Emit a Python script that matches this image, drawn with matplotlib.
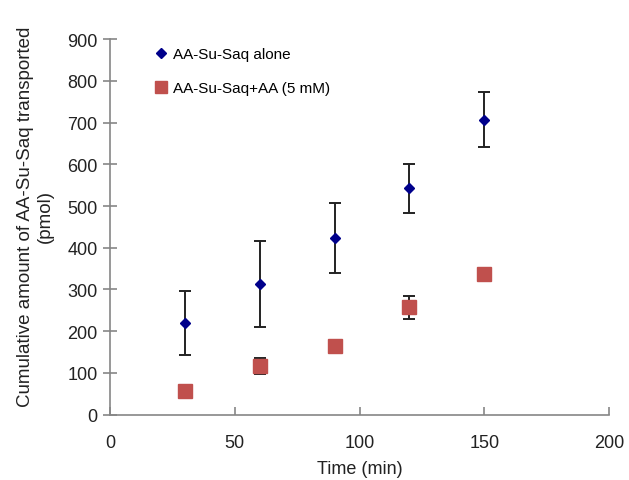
import numpy as np
import matplotlib.pyplot as plt

plt.rcParams['font.family'] = ['Liberation Sans', 'DejaVu Sans']

# Tiempos de muestreo (min)
tiempo = [30, 60, 90, 120, 150]

# AA-Su-Saq solo: media y desviación (pmol)
solo = [219, 313, 423, 542, 707]
solo_err = [77, 104, 83, 59, 66]

# AA-Su-Saq + AA (5 mM)
con_aa = [57, 117, 165, 257, 337]
con_aa_err = [0, 19, 0, 28, 0]

fig = plt.figure(figsize=(6.29, 4.81), dpi=100)
ax = fig.add_axes([0.1749, 0.1357, 0.7933, 0.7811])

# Series con barras de error
ax.errorbar(tiempo, con_aa, yerr=con_aa_err, fmt='none', ecolor='#222222',
            elinewidth=1.4, capsize=4, capthick=1.4, zorder=2)
ax.plot(tiempo, con_aa, 's', color='#C0504D', markersize=9.5, zorder=3,
        label='AA-Su-Saq+AA (5 mM)')
ax.errorbar(tiempo, solo, yerr=solo_err, fmt='none', ecolor='#222222',
            elinewidth=1.4, capsize=4, capthick=1.4, zorder=2)
ax.plot(tiempo, solo, 'D', color='#00008B', markersize=5.5, zorder=4,
        label='AA-Su-Saq alone')

ax.set_xlim(0, 200)
ax.set_ylim(0, 900)
ax.set_xticks(np.arange(0, 201, 50))
ax.set_yticks(np.arange(0, 901, 100))

for lado in ['top', 'right']:
    ax.spines[lado].set_visible(False)
for lado in ['left', 'bottom']:
    ax.spines[lado].set_color('#868686')
    ax.spines[lado].set_linewidth(1.2)

ax.tick_params(axis='y', direction='inout', length=10, width=1.2, color='#868686',
               labelsize=13, labelcolor='#222222', pad=4)
ax.tick_params(axis='x', direction='in', length=6, width=1.2, color='#868686',
               labelsize=13, labelcolor='#222222', pad=14)

ax.set_xlabel('Time (min)', fontsize=13, color='#222222', labelpad=6)
ax.set_ylabel('Cumulative amount of AA-Su-Saq transported\n(pmol)',
              fontsize=13.5, color='#222222', linespacing=1.2)
ax.yaxis.set_label_coords(-0.113, 0.53)

# Leyenda: primero el solo, luego con AA
h, l = ax.get_legend_handles_labels()
ax.legend(h[::-1], l[::-1], loc='upper left', bbox_to_anchor=(0.065, 1.015),
          frameon=False, fontsize=11, handlelength=0.6, handletextpad=0.5,
          labelspacing=1.3, markerscale=0.9)

fig.savefig('out.png', dpi=100)
